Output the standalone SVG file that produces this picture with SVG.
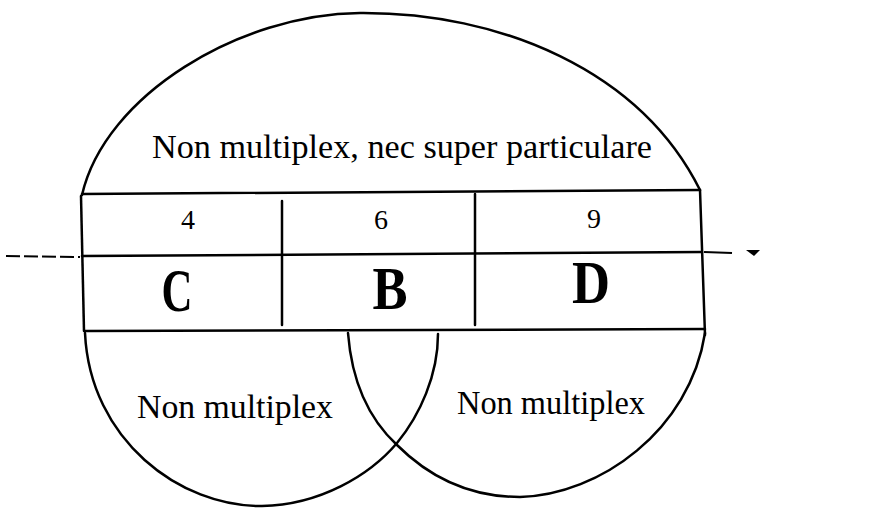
<svg xmlns="http://www.w3.org/2000/svg" width="873" height="531" viewBox="0 0 873 531">
<style>
.ln{fill:none;stroke:#000;stroke-width:2.5;stroke-linecap:round}
.thin{fill:none;stroke:#000;stroke-width:2}
.lbl{font-family:"Liberation Serif","DejaVu Serif",serif;fill:#000}
.big{font-size:34px}
.num{font-size:28px}
.let{font-size:62px;font-weight:bold}
</style>
<rect width="873" height="531" fill="#fff"/>
<g id="connectors">
<path class="thin" d="M6,256 L80,257" stroke-dasharray="14,4"/>
<path class="thin" d="M704,252 L732,253"/>
<path d="M746,250 L760,250 L754,256 Z" fill="#000"/>
</g>
<g id="top-region">
<path class="ln" d="M82,195 C 105,95 240,14 360,13 C 500,12 640,70 700,190"/>
<text class="lbl big" x="402" y="158" text-anchor="middle" textLength="500" lengthAdjust="spacingAndGlyphs">Non multiplex, nec super particulare</text>
</g>
<g id="table">
<path class="ln" d="M82,194 L700,190"/>
<path class="ln" d="M82,256 L702,252"/>
<path class="ln" d="M85,331 L705,329"/>
<path class="ln" d="M81,196 L84,331"/>
<path class="ln" d="M282,201 L282,325"/>
<path class="ln" d="M475,194 L475,325"/>
<path class="ln" d="M700,190 L705,335"/>
</g>
<g id="cell-C">
<text class="lbl num" x="188" y="229" text-anchor="middle" textLength="14" lengthAdjust="spacingAndGlyphs">4</text>
<text class="lbl let" x="177" y="311" text-anchor="middle" textLength="31" lengthAdjust="spacingAndGlyphs">C</text>
</g>
<g id="cell-B">
<text class="lbl num" x="381" y="229" text-anchor="middle" textLength="14" lengthAdjust="spacingAndGlyphs">6</text>
<text class="lbl let" x="390" y="309" text-anchor="middle" textLength="35" lengthAdjust="spacingAndGlyphs">B</text>
</g>
<g id="cell-D">
<text class="lbl num" x="594" y="228" text-anchor="middle" textLength="14" lengthAdjust="spacingAndGlyphs">9</text>
<text class="lbl let" x="591" y="303" text-anchor="middle" textLength="38" lengthAdjust="spacingAndGlyphs">D</text>
</g>
<g id="left-region">
<path class="ln" d="M85,333 C 90,440 180,507 262,506 C 320,505 370,475 397,443 C 420,415 438,375 438,334"/>
<text class="lbl big" x="235" y="418" text-anchor="middle" textLength="196" lengthAdjust="spacingAndGlyphs">Non multiplex</text>
</g>
<g id="right-region">
<path class="ln" d="M348,333 C 352,385 370,420 397,445 C 430,478 470,497 520,497 C 600,495 690,430 705,333"/>
<text class="lbl big" x="551" y="414" text-anchor="middle" textLength="188" lengthAdjust="spacingAndGlyphs">Non multiplex</text>
</g>
</svg>
